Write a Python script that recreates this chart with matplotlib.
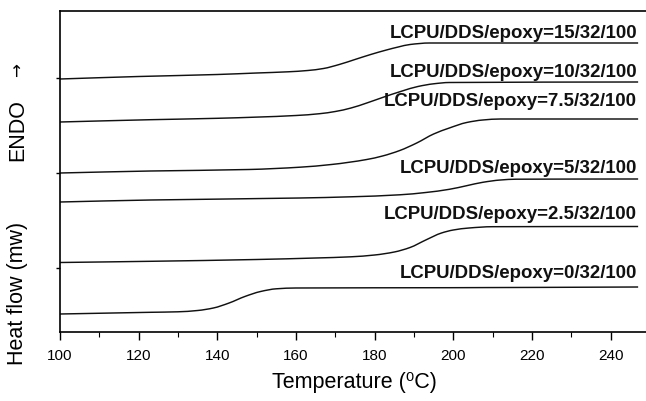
import matplotlib
matplotlib.use("Agg")
import matplotlib.pyplot as plt
import numpy as np
from matplotlib.path import Path
from matplotlib.patches import PathPatch
from matplotlib.ticker import MultipleLocator, FixedLocator

# ---- data (temperature in degC, heat flow in arbitrary mW units, offset curves) ----
T0 = [100, 123, 130, 135, 139, 143, 147, 151, 155, 160, 199, 247]
H0 = [1.90, 2.07, 2.12, 2.25, 2.50, 3.00, 3.65, 4.15, 4.42, 4.50, 4.53, 4.60]

T25 = [100, 123, 150, 165, 174, 180, 185, 189, 193, 197, 200, 204, 210, 247]
H25 = [7.05, 7.17, 7.35, 7.50, 7.62, 7.80, 8.10, 8.55, 9.30, 10.00, 10.30, 10.50, 10.63, 10.65]

T5 = [100, 123, 161, 174, 186.4, 193, 199, 203.4, 207.5, 212, 216, 247]
H5 = [13.10, 13.30, 13.50, 13.62, 13.82, 14.05, 14.37, 14.73, 15.07, 15.30, 15.38, 15.40]

T75 = [100, 123, 148, 161, 169, 178, 182, 186.4, 190.7, 195, 199, 203.4, 207.5, 212, 247]
H75 = [16.00, 16.20, 16.35, 16.58, 16.85, 17.35, 17.70, 18.25, 19.00, 19.90, 20.50, 21.05, 21.30, 21.40, 21.40]

T10 = [100, 123, 140, 160, 166, 170, 174, 178, 182, 187, 191, 195, 199, 247]
H10 = [21.10, 21.33, 21.47, 21.75, 21.93, 22.15, 22.50, 23.00, 23.55, 24.20, 24.65, 24.92, 25.05, 25.10]

T15 = [100, 120, 140, 150, 158, 163, 167, 171, 175, 179, 183, 186, 189, 194, 247]
H15 = [25.40, 25.65, 25.85, 26.00, 26.12, 26.25, 26.45, 26.85, 27.35, 27.85, 28.30, 28.60, 28.85, 29.00, 29.00]

labels = ["LCPU/DDS/epoxy=0/32/100", "LCPU/DDS/epoxy=2.5/32/100",
          "LCPU/DDS/epoxy=5/32/100", "LCPU/DDS/epoxy=7.5/32/100",
          "LCPU/DDS/epoxy=10/32/100", "LCPU/DDS/epoxy=15/32/100"]
label_y = [5.57, 11.47, 16.13, 22.8, 25.73, 29.57]   # baselines
label_x = 246.7

xticks = [100, 120, 140, 160, 180, 200, 220, 240]
xlabel = "Temperature (\u2070C)"

series = [(T0, H0), (T25, H25), (T5, H5), (T75, H75), (T10, H10), (T15, H15)]


def smooth_path(x, y):
    """Monotone cubic Hermite (PCHIP-style) rendered as Bezier segments."""
    x = np.asarray(x, float)
    y = np.asarray(y, float)
    h = np.diff(x)
    delta = np.diff(y) / h
    n = len(x)
    d = np.zeros(n)
    for i in range(1, n - 1):
        if delta[i - 1] * delta[i] <= 0:
            d[i] = 0.0
        else:
            w1 = 2 * h[i] + h[i - 1]
            w2 = h[i] + 2 * h[i - 1]
            d[i] = (w1 + w2) / (w1 / delta[i - 1] + w2 / delta[i])
    d[0] = delta[0]
    d[-1] = delta[-1]
    verts = [(x[0], y[0])]
    codes = [Path.MOVETO]
    for i in range(n - 1):
        verts.append((x[i] + h[i] / 3, y[i] + d[i] * h[i] / 3))
        verts.append((x[i + 1] - h[i] / 3, y[i + 1] - d[i + 1] * h[i] / 3))
        verts.append((x[i + 1], y[i + 1]))
        codes += [Path.CURVE4] * 3
    return Path(verts, codes)


# ---- figure ----
plt.rcParams['font.family'] = ['Liberation Sans', 'DejaVu Sans']
fig = plt.figure(figsize=(6.46, 4.02), dpi=100)
ax = fig.add_axes([60/646, (402-333)/402, (646-60)/646, (333-12)/402])

for (t, h) in series:
    ax.add_patch(PathPatch(smooth_path(t, h), facecolor='none',
                           edgecolor='#111111', lw=1.05))

for lab, ly in zip(labels, label_y):
    ax.text(label_x, ly, lab, ha='right', va='baseline', fontsize=13.4,
            fontweight='bold', color='#111111')

ax.set_xlim(100, 249)
ax.set_ylim(0.1, 32.2)
ax.xaxis.set_major_locator(FixedLocator(xticks))
ax.xaxis.set_minor_locator(MultipleLocator(10))
ax.yaxis.set_major_locator(FixedLocator([6.5, 16.0, 25.5]))
ax.set_yticklabels([])
ax.tick_params(axis='x', which='major', direction='out', length=5.5, width=1, labelsize=11, pad=6)
ax.tick_params(axis='x', which='minor', direction='out', length=3.5, width=0.8)
ax.tick_params(axis='y', which='major', direction='out', length=3, width=1)
ax.spines['right'].set_visible(False)
for s in ['left', 'bottom', 'top']:
    ax.spines[s].set_linewidth(1.2)

fig.text(354.5/646, 1 - 383/402, xlabel, ha='center', va='center', fontsize=15.5)

fig.text(18/646, 1 - 293/402, "Heat flow (mw)", rotation=90, ha='center', va='center', fontsize=15.5)
fig.text(18/646, 1 - 130/402, "ENDO", rotation=90, ha='center', va='center', fontsize=15.5)
fig.text(18/646, 1 - 70/402, "\u2192", rotation=90, ha='center', va='center', fontsize=12,
         family=['DejaVu Sans'])

fig.savefig("out.png", dpi=100)
